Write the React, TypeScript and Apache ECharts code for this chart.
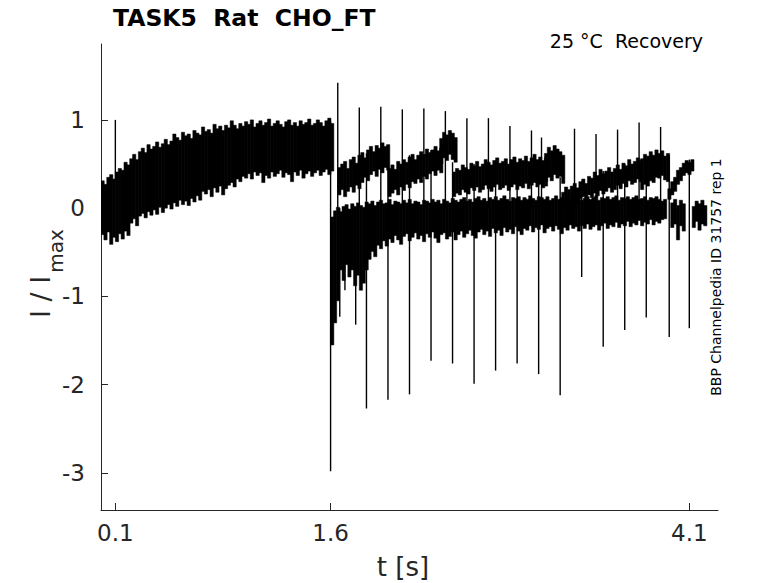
import { useEffect, useRef } from 'react';
import * as echarts from 'echarts';

// ---- axis ticks ----
const xTicks = [0.1, 1.6, 4.1];
const yTicks = [-3, -2, -1, 0, 1];

// ---- conditioning pulse band (t = 0 .. 1.6 s, step 0.02 s): upper / lower noise envelope ----
const condStart = 0;
const condStep = 0.02;
const condHi = [
  0.31, 0.27, 0.35, 0.38, 0.33, 0.41, 0.45, 0.43, 0.52, 0.49,
  0.56, 0.61, 0.55, 0.64, 0.68, 0.63, 0.72, 0.67, 0.70, 0.75,
  0.69, 0.73, 0.78, 0.72, 0.76, 0.84, 0.80, 0.77, 0.86, 0.82,
  0.84, 0.79, 0.88, 0.85, 0.83, 0.92, 0.87, 0.89, 0.85, 0.95,
  0.90, 0.93, 0.88, 0.94, 0.91, 0.99, 0.94, 0.90, 0.96, 0.93,
  0.98, 0.95, 1.00, 0.92, 0.96, 0.99, 0.94, 0.97, 1.01, 0.93,
  0.96, 0.99, 0.95, 0.92, 0.98, 1.00, 0.94, 0.97, 0.93, 0.99,
  0.95, 0.97, 1.01, 0.94, 0.96, 1.00, 0.97, 0.93, 0.99, 1.02,
  0.96,
];
const condLo = [
  -0.30, -0.36, -0.27, -0.41, -0.33, -0.38, -0.29, -0.35, -0.26, -0.31,
  -0.17, -0.12, -0.20, -0.09, -0.06, -0.11, -0.04, -0.08, -0.02, -0.07,
  0.01, -0.05, 0.00, 0.04, -0.01, 0.06, 0.02, 0.09, 0.04, 0.08,
  0.03, 0.11, 0.07, 0.14, 0.09, 0.19, 0.16, 0.21, 0.13, 0.23,
  0.18, 0.25, 0.15, 0.22, 0.26, 0.29, 0.24, 0.33, 0.30, 0.36,
  0.34, 0.39, 0.33, 0.41, 0.37, 0.40, 0.29, 0.37, 0.34, 0.41,
  0.36, 0.39, 0.43, 0.35, 0.40, 0.38, 0.30, 0.41, 0.37, 0.43,
  0.34, 0.39, 0.42, 0.36, 0.40, 0.43, 0.37, 0.41, 0.44, 0.38,
  0.42,
];

// ---- baseline band after the conditioning pulse (t = 1.60 .. 3.92 s, step 0.02 s) ----
const baseStart = 1.6;
const baseStep = 0.02;
const baseHi = [
  -0.10, -0.03, 0.01, -0.04, 0.02, 0.04, -0.01, 0.05, 0.02, 0.06,
  0.03, 0.01, 0.07, 0.05, 0.08, 0.03, 0.07, 0.09, 0.05, 0.06,
  0.10, 0.04, 0.08, 0.07, 0.05, 0.09, 0.06, 0.10, 0.05, 0.08,
  0.07, 0.04, 0.09, 0.08, 0.06, 0.10, 0.07, 0.09, 0.05, 0.10,
  0.08, 0.06, 0.11, 0.09, 0.07, 0.10, 0.12, 0.08, 0.10, 0.07,
  0.11, 0.13, 0.09, 0.11, 0.08, 0.12, 0.10, 0.13, 0.09, 0.11,
  0.14, 0.10, 0.08, 0.12, 0.11, 0.13, 0.09, 0.12, 0.10, 0.14,
  0.11, 0.09, 0.13, 0.12, 0.10, 0.13, 0.09, 0.11, 0.14, 0.10,
  0.12, 0.08, 0.13, 0.11, 0.10, 0.14, 0.12, 0.09, 0.11, 0.13,
  0.10, 0.12, 0.14, 0.09, 0.12, 0.11, 0.13, 0.10, 0.12, 0.14,
  0.09, 0.12, 0.11, 0.13, 0.10, 0.12, 0.14, 0.10, 0.11, 0.13,
  0.09, 0.12, 0.11, 0.13, 0.10, 0.08, 0.10,
];
const baseLo = [
  -1.55, -1.30, -1.05, -0.70, -0.82, -0.64, -0.78, -0.70, -0.88, -0.76,
  -0.93, -0.85, -0.70, -0.58, -0.49, -0.55, -0.42, -0.46, -0.37, -0.43,
  -0.35, -0.39, -0.31, -0.36, -0.41, -0.32, -0.29, -0.37, -0.33, -0.28,
  -0.35, -0.31, -0.38, -0.29, -0.33, -0.27, -0.34, -0.39, -0.30, -0.28,
  -0.35, -0.32, -0.27, -0.36, -0.30, -0.26, -0.33, -0.29, -0.25, -0.31,
  -0.34, -0.27, -0.24, -0.30, -0.26, -0.32, -0.23, -0.28, -0.25, -0.31,
  -0.22, -0.27, -0.24, -0.29, -0.21, -0.26, -0.30, -0.23, -0.25, -0.20,
  -0.27, -0.22, -0.24, -0.19, -0.28, -0.23, -0.21, -0.26, -0.20, -0.24,
  -0.29, -0.22, -0.25, -0.19, -0.23, -0.21, -0.26, -0.20, -0.23, -0.18,
  -0.24, -0.21, -0.19, -0.25, -0.20, -0.17, -0.23, -0.19, -0.21, -0.16,
  -0.22, -0.18, -0.20, -0.15, -0.21, -0.17, -0.19, -0.14, -0.20, -0.16,
  -0.18, -0.13, -0.19, -0.15, -0.17, -0.13, -0.12,
];

// ---- test-pulse strands (step 0.02 s) ----
const strandStep = 0.02;
const strandAStart = 1.65;
const strandAHi = [0.46, 0.50, 0.53, 0.45, 0.55, 0.58, 0.51, 0.60, 0.63, 0.57, 0.66, 0.70, 0.64, 0.71, 0.68, 0.74, 0.70, 0.72];
const strandALo = [0.15, 0.21, 0.13, 0.19, 0.24, 0.18, 0.26, 0.22, 0.29, 0.35, 0.31, 0.38, 0.42, 0.36, 0.44, 0.40, 0.46, 0.43];

const strandBStart = 2.0;
const strandBHi = [0.45, 0.49, 0.44, 0.53, 0.50, 0.55, 0.52, 0.58, 0.61, 0.55, 0.60, 0.64, 0.61, 0.67, 0.63, 0.66, 0.70, 0.65, 0.68];
const strandBLo = [0.13, 0.17, 0.21, 0.15, 0.24, 0.20, 0.27, 0.23, 0.30, 0.28, 0.33, 0.29, 0.36, 0.33, 0.39, 0.42, 0.37, 0.43, 0.40];

const strandCStart = 2.36;
const strandCHi = [0.79, 0.86, 0.83, 0.88, 0.85, 0.80];
const strandCLo = [0.50, 0.57, 0.54, 0.61, 0.55, 0.52];

const strandDStart = 2.45;
const strandDHi = [
  0.41, 0.45, 0.43, 0.49, 0.46, 0.44, 0.51, 0.48, 0.53, 0.47, 0.50, 0.55, 0.52, 0.49, 0.54, 0.57, 0.51,
  0.53, 0.56, 0.50, 0.55, 0.58, 0.52, 0.56, 0.54, 0.59, 0.53, 0.57, 0.61, 0.55, 0.58, 0.54, 0.57,
];
const strandDLo = [
  0.13, 0.17, 0.15, 0.21, 0.18, 0.16, 0.23, 0.20, 0.24, 0.18, 0.21, 0.26, 0.22, 0.19, 0.24, 0.27, 0.21,
  0.23, 0.26, 0.20, 0.24, 0.27, 0.21, 0.25, 0.23, 0.28, 0.22, 0.26, 0.29, 0.24, 0.27, 0.23, 0.25,
];

const strandEStart = 3.09;
const strandEHi = [0.62, 0.69, 0.65, 0.71, 0.67, 0.64, 0.60];
const strandELo = [0.30, 0.35, 0.31, 0.38, 0.34, 0.36, 0.28];

const strandGStart = 3.21;
const strandGHi = [
  0.18, 0.24, 0.21, 0.25, 0.28, 0.23, 0.30, 0.33, 0.28, 0.36, 0.34, 0.41, 0.37, 0.44,
  0.39, 0.42, 0.46, 0.41, 0.45, 0.49, 0.44, 0.51, 0.48, 0.55, 0.50, 0.53, 0.57, 0.54,
];
const strandGLo = [
  0.02, 0.05, 0.04, 0.07, 0.09, 0.05, 0.11, 0.13, 0.08, 0.15, 0.12, 0.17, 0.14, 0.20,
  0.16, 0.19, 0.23, 0.18, 0.21, 0.26, 0.22, 0.28, 0.24, 0.31, 0.27, 0.29, 0.33, 0.30,
];

const strandHStart = 3.76;
const strandHHi = [0.56, 0.61, 0.59, 0.64, 0.60, 0.66, 0.62, 0.65, 0.59, 0.62];
const strandHLo = [0.21, 0.27, 0.25, 0.31, 0.29, 0.35, 0.34, 0.37, 0.32, 0.30];

const strandIStart = 3.95;
const strandIHi = [0.22, 0.30, 0.35, 0.43, 0.46, 0.51, 0.54, 0.52, 0.55];
const strandILo = [0.10, 0.15, 0.19, 0.27, 0.31, 0.37, 0.40, 0.38, 0.42];

const tailRStart = 3.97;
const tailRHi = [0.06, 0.10, 0.03, 0.09, 0.05];
const tailRLo = [-0.22, -0.18, -0.36, -0.20, -0.26];

const tailSStart = 4.12;
const tailSHi = [0.02, 0.08, 0.05, 0.09, 0.03];
const tailSLo = [-0.22, -0.15, -0.25, -0.18, -0.20];

// ---- capacitive transients ----
const upT = [0.10, 1.65, 1.80, 1.95, 2.10, 2.25, 2.40, 2.55, 2.70, 2.85, 3.00, 3.07, 3.30, 3.45, 3.60, 3.75, 3.90];
const upBase = [0.30, 0.0, 0.0, 0.0, 0.0, 0.0, 0.0, 0.0, 0.0, 0.0, 0.0, 0.0, 0.0, 0.0, 0.0, 0.0, 0.0];
const upTop = [1.00, 1.42, 1.14, 1.15, 1.12, 1.13, 1.10, 1.02, 1.02, 0.93, 0.88, 0.80, 0.90, 0.84, 0.89, 0.97, 0.92];

const downT = [1.60, 1.664, 1.70, 1.775, 1.85, 2.00, 2.15, 2.30, 2.45, 2.60, 2.75, 2.90, 3.05, 3.20, 3.35, 3.50, 3.65, 3.80, 3.96, 4.10];
const downTop = [0.98, 0.0, 0.0, 0.0, 0.62, 0.70, 0.60, 0.66, 0.52, 0.50, 0.52, 0.50, 0.55, 0.35, 0.30, 0.42, 0.50, 0.55, 0.60, 0.55];
const downBot = [-2.98, -1.23, -0.93, -1.32, -2.27, -2.17, -2.11, -1.73, -1.76, -1.99, -1.84, -1.76, -1.88, -2.12, -0.78, -1.57, -1.38, -1.24, -1.46, -1.36];

// ---- build helpers: one vertical noise column per sample ----
function bandItems(t0: number, dt: number, hi: number[], lo: number[]) {
  return hi.map((h, i) => [t0 + i * dt, lo[i], h, t0 + (i + 1) * dt]);
}

const bands = [
  bandItems(condStart, condStep, condHi, condLo),
  bandItems(baseStart, baseStep, baseHi, baseLo),
  bandItems(strandAStart, strandStep, strandAHi, strandALo),
  bandItems(strandBStart, strandStep, strandBHi, strandBLo),
  bandItems(strandCStart, strandStep, strandCHi, strandCLo),
  bandItems(strandDStart, strandStep, strandDHi, strandDLo),
  bandItems(strandEStart, strandStep, strandEHi, strandELo),
  bandItems(strandGStart, strandStep, strandGHi, strandGLo),
  bandItems(strandHStart, strandStep, strandHHi, strandHLo),
  bandItems(strandIStart, strandStep, strandIHi, strandILo),
  bandItems(tailRStart, strandStep, tailRHi, tailRLo),
  bandItems(tailSStart, strandStep, tailSHi, tailSLo),
];
const bandData = ([] as number[][]).concat(...bands);

const spikeData: number[][] = [];
upT.forEach((t, i) => spikeData.push([t, upBase[i], upTop[i]]));
downT.forEach((t, i) => spikeData.push([t, downTop[i], downBot[i]]));

const FONT = '"DejaVu Sans", "Liberation Sans", sans-serif';
const AX = '#262626';

const option: any = {
  animation: false,
  backgroundColor: '#ffffff',
  grid: { left: 101, top: 44, right: 60, bottom: 73, containLabel: false },
  xAxis: {
    type: 'value',
    min: 0,
    max: 4.3,
    axisLine: { show: true, onZero: false, lineStyle: { color: AX, width: 1 } },
    axisTick: { show: true, inside: true, length: 7, customValues: xTicks, lineStyle: { color: AX } },
    axisLabel: {
      customValues: xTicks,
      formatter: (v: number) => v.toFixed(1),
      fontSize: 23,
      fontFamily: FONT,
      color: AX,
      margin: 11,
    },
    splitLine: { show: false },
  },
  yAxis: {
    type: 'value',
    min: -3.42,
    max: 1.86,
    axisLine: { show: true, onZero: false, lineStyle: { color: AX, width: 1 } },
    axisTick: { show: true, inside: true, length: 7, customValues: yTicks, lineStyle: { color: AX } },
    axisLabel: {
      customValues: yTicks,
      formatter: (v: number) => String(v),
      fontSize: 23,
      fontFamily: FONT,
      color: AX,
      margin: 16,
    },
    splitLine: { show: false },
  },
  series: [
    {
      type: 'custom',
      clip: true,
      data: bandData,
      encode: { x: [0, 3], y: [1, 2] },
      renderItem: (_p: any, api: any) => {
        const a = api.coord([api.value(0), api.value(2)]);
        const b = api.coord([api.value(3), api.value(1)]);
        return {
          type: 'rect',
          shape: { x: a[0], y: a[1], width: b[0] - a[0] + 0.4, height: b[1] - a[1] },
          style: { fill: '#000', stroke: '#000', lineWidth: 0.5 },
        };
      },
    },
    {
      type: 'custom',
      clip: true,
      data: spikeData,
      encode: { x: 0, y: [1, 2] },
      renderItem: (_p: any, api: any) => {
        const a = api.coord([api.value(0), api.value(1)]);
        const b = api.coord([api.value(0), api.value(2)]);
        return {
          type: 'line',
          shape: { x1: a[0], y1: a[1], x2: b[0], y2: b[1] },
          style: { stroke: '#000', lineWidth: 1.4 },
        };
      },
    },
  ],
  graphic: [
    {
      type: 'text',
      left: 113,
      top: 6,
      style: { text: 'TASK5  Rat  CHO_FT', font: `bold 23.5px ${FONT}`, fill: '#000' },
    },
    {
      type: 'text',
      right: 75,
      top: 31,
      style: { text: '25 °C  Recovery', font: `19px ${FONT}`, fill: '#000' },
    },
    {
      type: 'text',
      x: 716,
      y: 277,
      rotation: Math.PI / 2,
      style: {
        text: 'BBP Channelpedia ID 31757 rep 1',
        font: `14px ${FONT}`,
        fill: '#000',
        align: 'center',
        verticalAlign: 'middle',
      },
    },
    {
      type: 'text',
      x: 403,
      y: 567,
      style: { text: 't [s]', font: `26px ${FONT}`, fill: AX, align: 'center', verticalAlign: 'middle' },
    },
    {
      type: 'text',
      x: 40,
      y: 297,
      rotation: Math.PI / 2,
      style: { text: 'I / I', font: `27px ${FONT}`, fill: AX, align: 'center', verticalAlign: 'middle' },
    },
    {
      type: 'text',
      x: 56,
      y: 251,
      rotation: Math.PI / 2,
      style: { text: 'max', font: `20px ${FONT}`, fill: AX, align: 'center', verticalAlign: 'middle' },
    },
  ],
};

export default function App() {
  const ref = useRef<HTMLDivElement>(null);
  useEffect(() => {
    const chart = echarts.init(ref.current as HTMLDivElement, null, { renderer: 'svg' });
    chart.setOption(option);
    return () => chart.dispose();
  }, []);
  return (
    <div
      ref={ref}
      style={{ position: 'absolute', left: 0, top: 0, width: 778, height: 583, background: '#fff' }}
    />
  );
}
